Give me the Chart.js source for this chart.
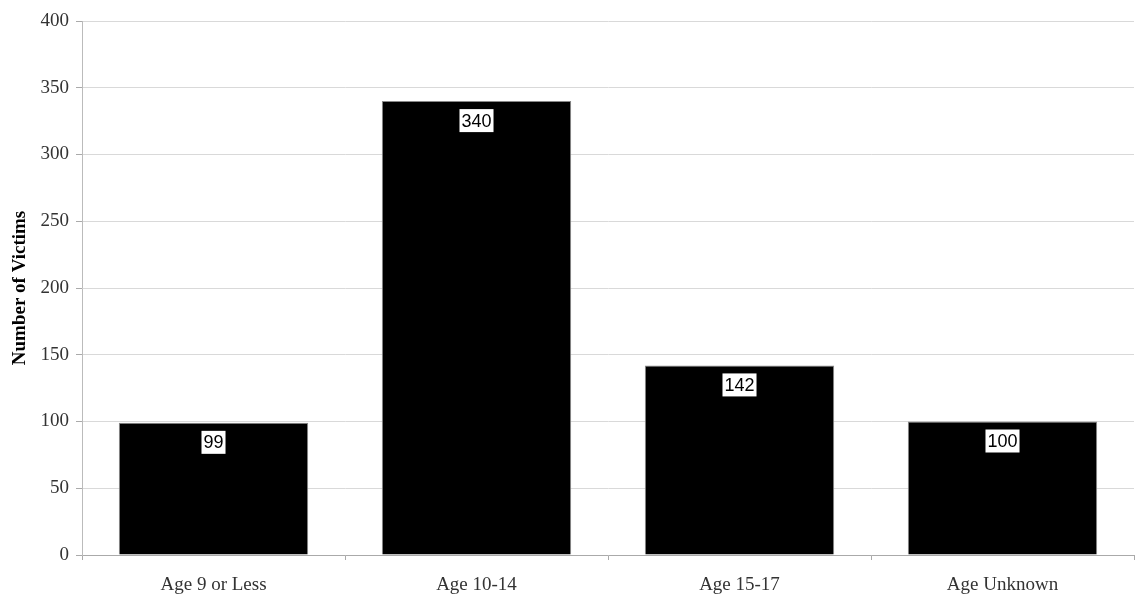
<!DOCTYPE html>
<html>
<head>
<meta charset="utf-8">
<script src="https://cdn.jsdelivr.net/npm/chart.js@4/dist/chart.umd.min.js"></script>
<style>
  html, body { margin: 0; padding: 0; background: #fff; }
  #wrap { width: 1135px; height: 599px; position: relative; }
</style>
</head>
<body>
<div id="wrap"><canvas id="chart"></canvas></div>
<script>
// data
const categories = ['Age 9 or Less', 'Age 10-14', 'Age 15-17', 'Age Unknown'];
const victims = [99, 340, 142, 100];
const yTicks = [0, 50, 100, 150, 200, 250, 300, 350, 400];

// white boxed value labels just inside the top of each bar
const valueBoxes = {
    id: 'valueBoxes',
    afterDatasetsDraw(chart) {
        const ctx = chart.ctx;
        const meta = chart.getDatasetMeta(0);
        ctx.save();
        ctx.font = '18px "Liberation Sans", Arial, sans-serif';
        ctx.textAlign = 'center';
        ctx.textBaseline = 'middle';
        meta.data.forEach((bar, i) => {
            const txt = String(chart.data.datasets[0].data[i]);
            const w = ctx.measureText(txt).width + 4;
            const h = 23;
            const top = bar.y + 8;
            ctx.fillStyle = '#ffffff';
            ctx.fillRect(bar.x - w / 2, top, w, h);
            ctx.fillStyle = '#000000';
            ctx.fillText(txt, bar.x, top + h / 2 + 1);
        });
        ctx.restore();
    }
};

const serif = '"Liberation Serif", "Times New Roman", serif';

const ctx = document.getElementById('chart').getContext('2d');
new Chart(ctx, {
    type: 'bar',
    data: {
        labels: categories,
        datasets: [{
            data: victims,
            backgroundColor: '#000000',
            borderColor: '#888888',
            borderWidth: 1,
            barPercentage: 0.72,
            categoryPercentage: 1.0
        }]
    },
    options: {
        responsive: true,
        maintainAspectRatio: false,
        animation: false,
        layout: { padding: { top: 21, right: 1, bottom: 0, left: 0 } },
        plugins: {
            legend: { display: false },
            tooltip: { enabled: false }
        },
        scales: {
            x: {
                offset: true,
                grid: {
                    offset: true,
                    drawOnChartArea: false,
                    drawTicks: true,
                    tickLength: 5,
                    color: '#aaaaaa'
                },
                border: { color: '#aaaaaa' },
                ticks: {
                    color: '#333333',
                    padding: 14,
                    font: { family: serif, size: 19 }
                },
                afterFit(scale) { scale.height = 44; }
            },
            y: {
                min: 0,
                max: 400,
                afterBuildTicks(scale) { scale.ticks = yTicks.map(v => ({ value: v })); },
                grid: {
                    color: '#d9d9d9',
                    tickLength: 6,
                    tickColor: '#aaaaaa'
                },
                border: { color: '#bbbbbb' },
                ticks: {
                    color: '#333333',
                    padding: 7,
                    font: { family: serif, size: 19 }
                },
                title: {
                    display: true,
                    text: 'Number of Victims',
                    color: '#000000',
                    padding: { top: 9, bottom: 0 },
                    font: { family: serif, size: 19, weight: 'bold' }
                },
                afterFit(scale) { scale.width = 82; }
            }
        }
    },
    plugins: [valueBoxes]
});
</script>
</body>
</html>
